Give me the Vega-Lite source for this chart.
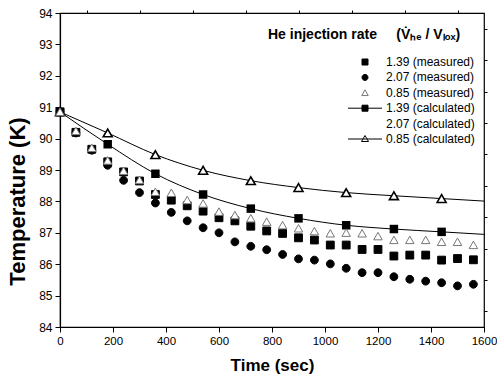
{
  "$schema": "https://vega.github.io/schema/vega-lite/v6.json",
  "width": 424,
  "height": 314,
  "autosize": "none",
  "padding": {"left": 60, "top": 13, "right": 13, "bottom": 56},
  "background": "white",
  "config": {
    "font": "Liberation Sans",
    "view": {"stroke": "black", "strokeWidth": 1.2},
    "axis": {"grid": false, "domainColor": "black", "domainWidth": 1.2, "tickColor": "black", "labelColor": "black", "titleColor": "black", "labelFont": "Liberation Sans", "titleFont": "Liberation Sans"}
  },
  "datasets": {
    "d": [
      {"t": 0, "T": 90.85, "series": "1.39 (measured)"},
      {"t": 60, "T": 90.2, "series": "1.39 (measured)"},
      {"t": 120, "T": 89.66, "series": "1.39 (measured)"},
      {"t": 180, "T": 89.26, "series": "1.39 (measured)"},
      {"t": 240, "T": 88.94, "series": "1.39 (measured)"},
      {"t": 300, "T": 88.65, "series": "1.39 (measured)"},
      {"t": 360, "T": 88.22, "series": "1.39 (measured)"},
      {"t": 420, "T": 88.04, "series": "1.39 (measured)"},
      {"t": 480, "T": 87.86, "series": "1.39 (measured)"},
      {"t": 540, "T": 87.69, "series": "1.39 (measured)"},
      {"t": 600, "T": 87.48, "series": "1.39 (measured)"},
      {"t": 660, "T": 87.38, "series": "1.39 (measured)"},
      {"t": 720, "T": 87.21, "series": "1.39 (measured)"},
      {"t": 780, "T": 87.06, "series": "1.39 (measured)"},
      {"t": 840, "T": 86.98, "series": "1.39 (measured)"},
      {"t": 900, "T": 86.84, "series": "1.39 (measured)"},
      {"t": 960, "T": 86.77, "series": "1.39 (measured)"},
      {"t": 1020, "T": 86.61, "series": "1.39 (measured)"},
      {"t": 1080, "T": 86.61, "series": "1.39 (measured)"},
      {"t": 1140, "T": 86.47, "series": "1.39 (measured)"},
      {"t": 1200, "T": 86.47, "series": "1.39 (measured)"},
      {"t": 1260, "T": 86.26, "series": "1.39 (measured)"},
      {"t": 1320, "T": 86.29, "series": "1.39 (measured)"},
      {"t": 1380, "T": 86.29, "series": "1.39 (measured)"},
      {"t": 1440, "T": 86.13, "series": "1.39 (measured)"},
      {"t": 1500, "T": 86.18, "series": "1.39 (measured)"},
      {"t": 1560, "T": 86.14, "series": "1.39 (measured)"},
      {"t": 0, "T": 90.85, "series": "2.07 (measured)"},
      {"t": 60, "T": 90.18, "series": "2.07 (measured)"},
      {"t": 120, "T": 89.63, "series": "2.07 (measured)"},
      {"t": 180, "T": 89.15, "series": "2.07 (measured)"},
      {"t": 240, "T": 88.67, "series": "2.07 (measured)"},
      {"t": 300, "T": 88.28, "series": "2.07 (measured)"},
      {"t": 360, "T": 87.95, "series": "2.07 (measured)"},
      {"t": 420, "T": 87.65, "series": "2.07 (measured)"},
      {"t": 480, "T": 87.38, "series": "2.07 (measured)"},
      {"t": 540, "T": 87.16, "series": "2.07 (measured)"},
      {"t": 600, "T": 87.0, "series": "2.07 (measured)"},
      {"t": 660, "T": 86.71, "series": "2.07 (measured)"},
      {"t": 720, "T": 86.57, "series": "2.07 (measured)"},
      {"t": 780, "T": 86.46, "series": "2.07 (measured)"},
      {"t": 840, "T": 86.31, "series": "2.07 (measured)"},
      {"t": 900, "T": 86.17, "series": "2.07 (measured)"},
      {"t": 960, "T": 86.13, "series": "2.07 (measured)"},
      {"t": 1020, "T": 86.01, "series": "2.07 (measured)"},
      {"t": 1080, "T": 85.87, "series": "2.07 (measured)"},
      {"t": 1140, "T": 85.73, "series": "2.07 (measured)"},
      {"t": 1200, "T": 85.73, "series": "2.07 (measured)"},
      {"t": 1260, "T": 85.6, "series": "2.07 (measured)"},
      {"t": 1320, "T": 85.52, "series": "2.07 (measured)"},
      {"t": 1380, "T": 85.46, "series": "2.07 (measured)"},
      {"t": 1440, "T": 85.41, "series": "2.07 (measured)"},
      {"t": 1500, "T": 85.31, "series": "2.07 (measured)"},
      {"t": 1560, "T": 85.36, "series": "2.07 (measured)"},
      {"t": 0, "T": 90.85, "series": "0.85 (measured)"},
      {"t": 60, "T": 90.24, "series": "0.85 (measured)"},
      {"t": 120, "T": 89.7, "series": "0.85 (measured)"},
      {"t": 180, "T": 89.3, "series": "0.85 (measured)"},
      {"t": 240, "T": 88.97, "series": "0.85 (measured)"},
      {"t": 300, "T": 88.68, "series": "0.85 (measured)"},
      {"t": 360, "T": 88.3, "series": "0.85 (measured)"},
      {"t": 420, "T": 88.27, "series": "0.85 (measured)"},
      {"t": 480, "T": 88.04, "series": "0.85 (measured)"},
      {"t": 540, "T": 87.93, "series": "0.85 (measured)"},
      {"t": 600, "T": 87.67, "series": "0.85 (measured)"},
      {"t": 660, "T": 87.56, "series": "0.85 (measured)"},
      {"t": 720, "T": 87.46, "series": "0.85 (measured)"},
      {"t": 780, "T": 87.35, "series": "0.85 (measured)"},
      {"t": 840, "T": 87.24, "series": "0.85 (measured)"},
      {"t": 900, "T": 87.14, "series": "0.85 (measured)"},
      {"t": 960, "T": 87.05, "series": "0.85 (measured)"},
      {"t": 1020, "T": 86.98, "series": "0.85 (measured)"},
      {"t": 1080, "T": 87.0, "series": "0.85 (measured)"},
      {"t": 1140, "T": 86.98, "series": "0.85 (measured)"},
      {"t": 1200, "T": 86.89, "series": "0.85 (measured)"},
      {"t": 1260, "T": 86.77, "series": "0.85 (measured)"},
      {"t": 1320, "T": 86.77, "series": "0.85 (measured)"},
      {"t": 1380, "T": 86.77, "series": "0.85 (measured)"},
      {"t": 1440, "T": 86.71, "series": "0.85 (measured)"},
      {"t": 1500, "T": 86.71, "series": "0.85 (measured)"},
      {"t": 1560, "T": 86.61, "series": "0.85 (measured)"},
      {"t": 0, "T": 90.85, "series": "1.39 (calculated)"},
      {"t": 180, "T": 89.82, "series": "1.39 (calculated)"},
      {"t": 360, "T": 88.88, "series": "1.39 (calculated)"},
      {"t": 540, "T": 88.22, "series": "1.39 (calculated)"},
      {"t": 720, "T": 87.77, "series": "1.39 (calculated)"},
      {"t": 900, "T": 87.46, "series": "1.39 (calculated)"},
      {"t": 1080, "T": 87.24, "series": "1.39 (calculated)"},
      {"t": 1260, "T": 87.12, "series": "1.39 (calculated)"},
      {"t": 1440, "T": 87.03, "series": "1.39 (calculated)"},
      {"t": 1600, "T": 86.95, "series": "1.39 (calculated)"},
      {"t": 0, "T": 90.85, "series": "0.85 (calculated)"},
      {"t": 180, "T": 90.18, "series": "0.85 (calculated)"},
      {"t": 360, "T": 89.49, "series": "0.85 (calculated)"},
      {"t": 540, "T": 88.99, "series": "0.85 (calculated)"},
      {"t": 720, "T": 88.66, "series": "0.85 (calculated)"},
      {"t": 900, "T": 88.44, "series": "0.85 (calculated)"},
      {"t": 1080, "T": 88.28, "series": "0.85 (calculated)"},
      {"t": 1260, "T": 88.18, "series": "0.85 (calculated)"},
      {"t": 1440, "T": 88.09, "series": "0.85 (calculated)"},
      {"t": 1600, "T": 88.01, "series": "0.85 (calculated)"}
    ]
  },
  "data": {"name": "d"},
  "resolve": {"axis": {"x": "independent", "y": "independent"}},
  "layer": [
    {
      "transform": [{"filter": "indexof(datum.series, 'calculated') >= 0"}],
      "mark": {"type": "line", "color": "black", "strokeWidth": 1, "interpolate": "monotone"},
      "encoding": {
        "x": {"field": "t", "type": "quantitative", "scale": {"domain": [0, 1600], "nice": false},
          "axis": {"values": [0, 200, 400, 600, 800, 1000, 1200, 1400, 1600], "format": "d", "tickSize": 5, "labelFontSize": 11.5, "labelPadding": 3, "title": "Time (sec)", "titleFontSize": 17, "titleFontWeight": "bold", "titlePadding": 11, "labelFlush": false}},
        "y": {"field": "T", "type": "quantitative", "scale": {"domain": [84, 94], "nice": false, "zero": false},
          "axis": {"values": [84, 85, 86, 87, 88, 89, 90, 91, 92, 93, 94], "tickSize": 5, "labelFontSize": 12, "labelPadding": 3, "title": "Temperature (K)", "titleFontSize": 22, "titleFontWeight": "bold", "titlePadding": 9, "titleY": 188, "labelFlush": false}},
        "detail": {"field": "series"}
      }
    },
    {
      "transform": [{"filter": "datum.series == '1.39 (calculated)' && datum.t <= 1440"}],
      "mark": {"type": "point", "shape": "square", "filled": true, "color": "black", "size": 72, "opacity": 1},
      "encoding": {
        "x": {"field": "t", "type": "quantitative", "axis": null},
        "y": {"field": "T", "type": "quantitative", "axis": null}
      }
    },
    {
      "transform": [{"filter": "datum.series == '0.85 (calculated)' && datum.t <= 1440"}],
      "mark": {"type": "point", "shape": "triangle-up", "filled": true, "fill": "white", "stroke": "black", "strokeWidth": 1.6, "size": 80, "opacity": 1},
      "encoding": {
        "x": {"field": "t", "type": "quantitative", "axis": null},
        "y": {"field": "T", "type": "quantitative", "axis": null}
      }
    },
    {
      "transform": [{"filter": "indexof(datum.series, 'measured') >= 0"}],
      "mark": {"type": "point", "filled": true, "size": 170, "strokeWidth": 1, "opacity": 1},
      "encoding": {
        "x": {"field": "t", "type": "quantitative",
          "axis": {"values": [100, 300, 500, 700, 900, 1100, 1300, 1500], "tickSize": 3, "labels": false, "domain": false, "title": null}},
        "y": {"field": "T", "type": "quantitative",
          "axis": {"values": [84.5, 85.5, 86.5, 87.5, 88.5, 89.5, 90.5, 91.5, 92.5, 93.5], "tickSize": 3, "labels": false, "domain": false, "title": null}},
        "shape": {"field": "series", "type": "nominal",
          "scale": {"domain": ["1.39 (measured)", "2.07 (measured)", "0.85 (measured)", "1.39 (calculated)", "2.07 (calculated)", "0.85 (calculated)"],
            "range": [
              "M-0.6,-0.6H0.6V0.6H-0.6Z",
              "M0.6,0A0.6,0.6,0,1,1,-0.6,0A0.6,0.6,0,1,1,0.6,0Z",
              "M0,-0.6L0.65,0.55L-0.65,0.55Z",
              "M-3.4,0H3.4M-0.6,-0.6H0.6V0.6H-0.6Z",
              "M0,0",
              "M-3.4,0H3.4M0,-0.7L0.7,0.5L-0.7,0.5Z"
            ]},
          "legend": {"title": "He injection rate\u00a0\u00a0\u00a0\u00a0\u00a0(V̇ₕₑ\u00a0/\u00a0Vₗₒₓ)", "orient": "none", "legendX": 208, "legendY": 15, "symbolSize": 100, "symbolStrokeWidth": 1, "symbolOffset": 91, "labelOffset": 15, "labelFontSize": 12, "labelColor": "black", "titleFontSize": 14, "titleFontWeight": "bold", "titleColor": "black", "titleLimit": 300, "titlePadding": 14, "rowPadding": 3.4, "padding": 0}},
        "fill": {"field": "series", "type": "nominal",
          "scale": {"domain": ["1.39 (measured)", "2.07 (measured)", "0.85 (measured)", "1.39 (calculated)", "2.07 (calculated)", "0.85 (calculated)"],
            "range": ["black", "black", "white", "black", "transparent", "white"]},
          "legend": {"title": "He injection rate\u00a0\u00a0\u00a0\u00a0\u00a0(V̇ₕₑ\u00a0/\u00a0Vₗₒₓ)", "orient": "none", "legendX": 208, "legendY": 15}},
        "stroke": {"field": "series", "type": "nominal",
          "scale": {"domain": ["1.39 (measured)", "2.07 (measured)", "0.85 (measured)", "1.39 (calculated)", "2.07 (calculated)", "0.85 (calculated)"],
            "range": ["black", "black", "#777777", "black", "transparent", "black"]},
          "legend": {"title": "He injection rate\u00a0\u00a0\u00a0\u00a0\u00a0(V̇ₕₑ\u00a0/\u00a0Vₗₒₓ)", "orient": "none", "legendX": 208, "legendY": 15}}
      }
    }
  ]
}
